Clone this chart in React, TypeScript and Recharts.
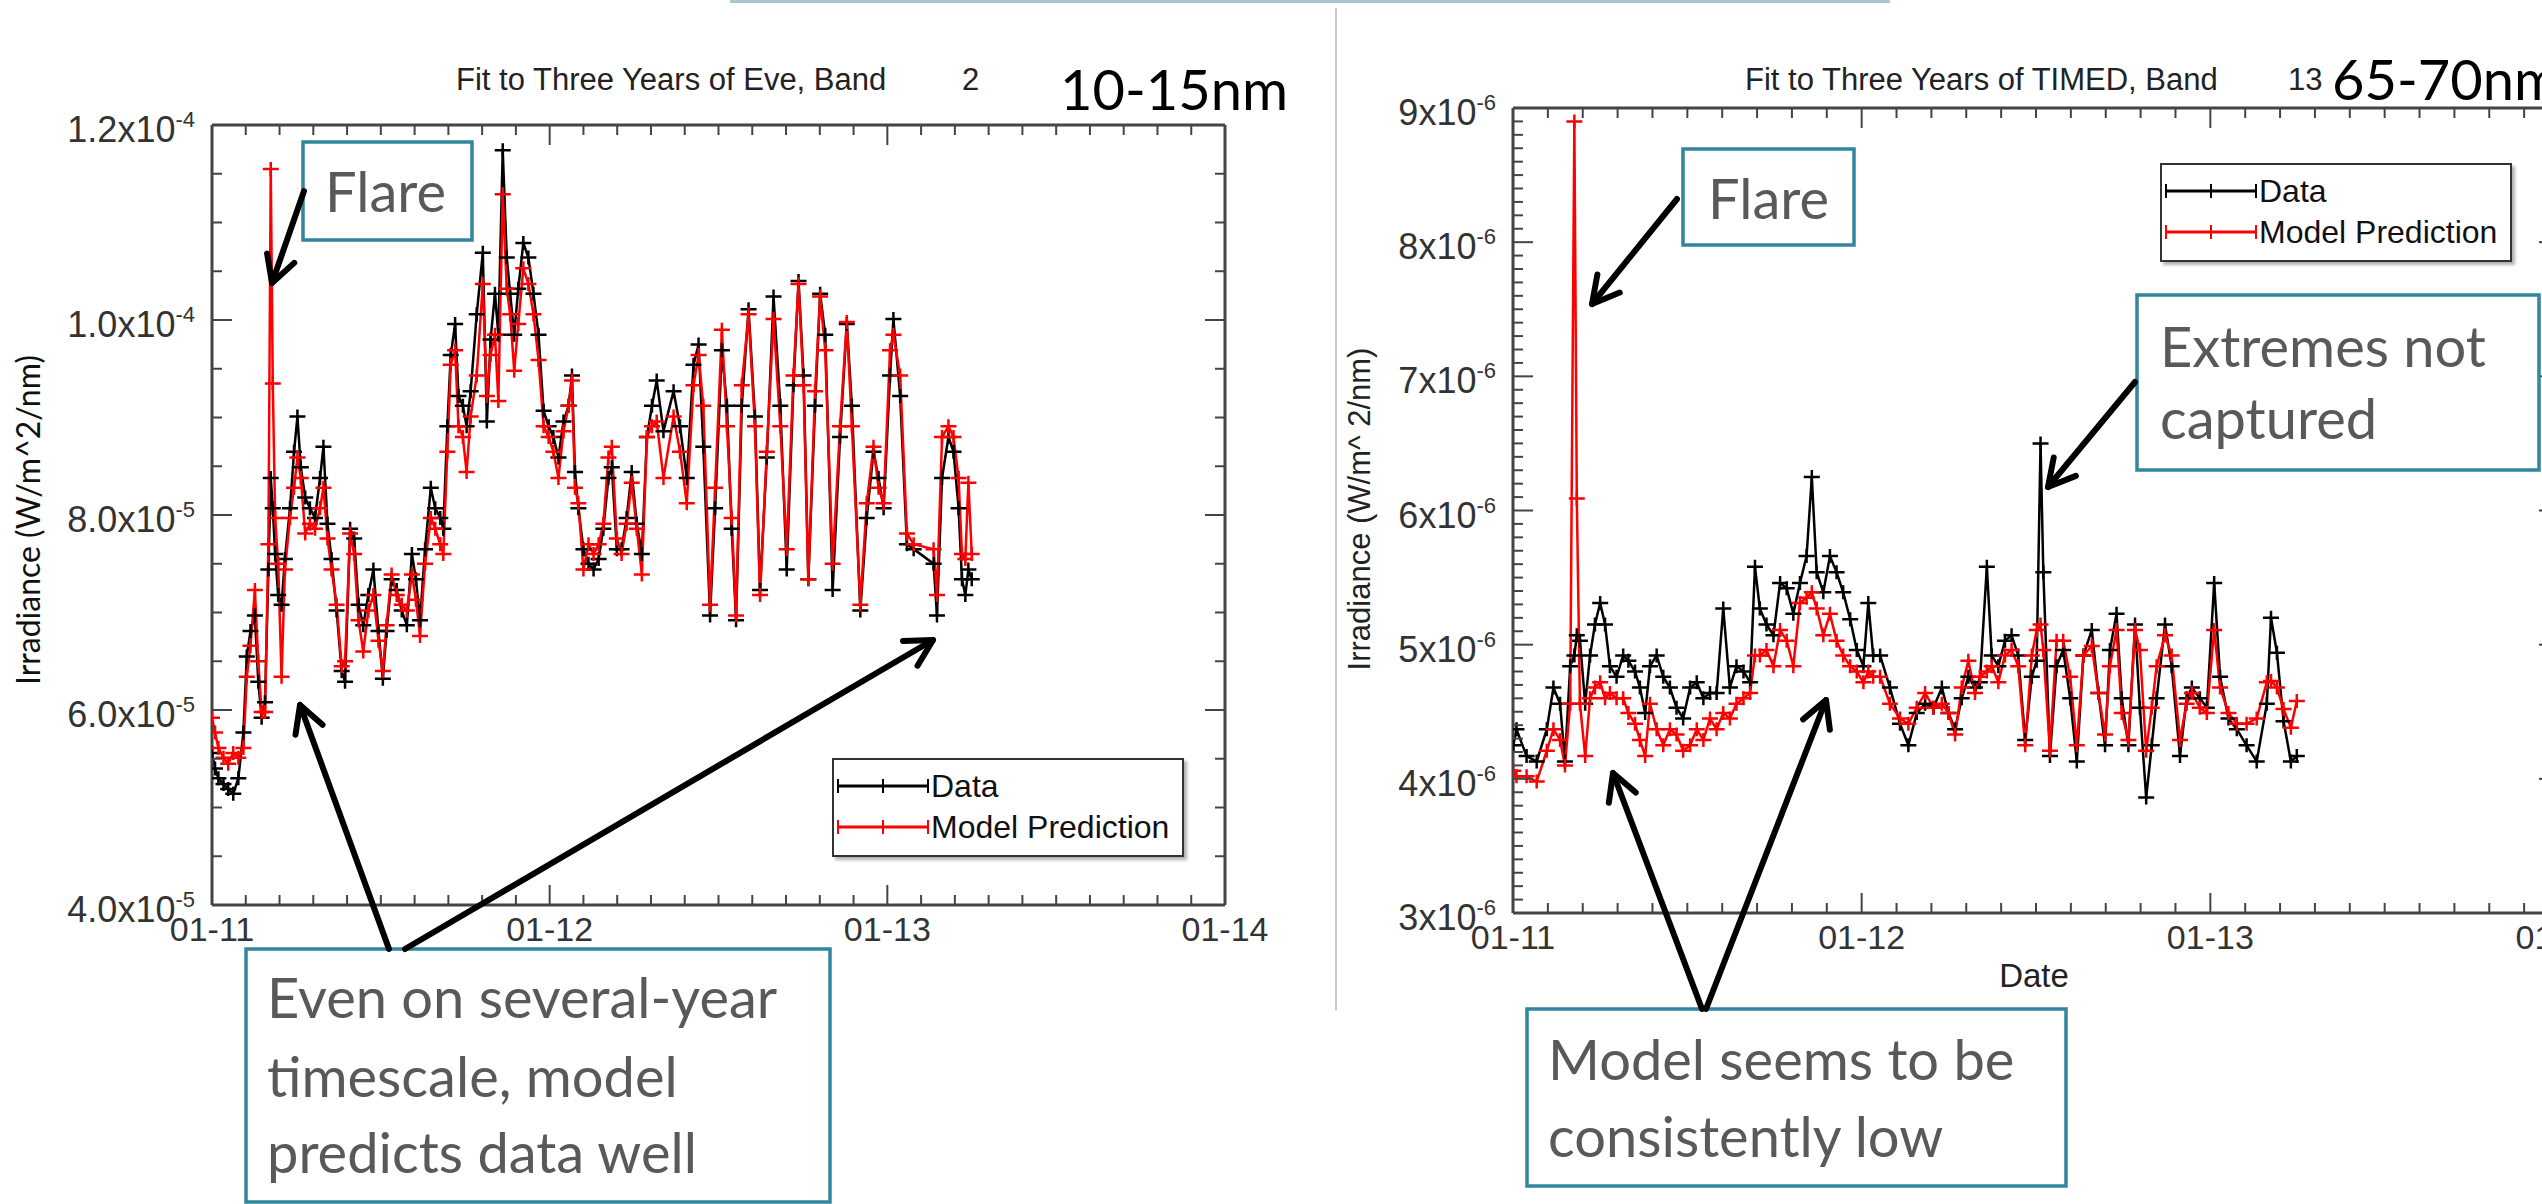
import React from "react";
import { LineChart, Line, XAxis, YAxis, Legend } from "recharts";

// EVE band 2 (10-15 nm). t = years after Jan 2011, irradiance in 1e-5 W/m^2/nm
const eveT = [
  0.0, 0.009, 0.019, 0.034, 0.048, 0.063, 0.078, 0.093, 0.103, 0.114,
  0.127, 0.137, 0.147, 0.157, 0.167, 0.174, 0.18, 0.187, 0.196, 0.206,
  0.216, 0.231, 0.243, 0.253, 0.263, 0.276, 0.29, 0.305, 0.32, 0.33,
  0.342, 0.354, 0.369, 0.384, 0.394, 0.409, 0.421, 0.434, 0.448, 0.463,
  0.478, 0.493, 0.506, 0.517, 0.532, 0.547, 0.562, 0.577, 0.592, 0.604,
  0.616, 0.631, 0.648, 0.661, 0.676, 0.685, 0.697, 0.707, 0.72, 0.73,
  0.743, 0.754, 0.766, 0.784, 0.802, 0.814, 0.825, 0.838, 0.848, 0.861,
  0.873, 0.883, 0.895, 0.907, 0.922, 0.937, 0.952, 0.967, 0.982, 0.997,
  1.011, 1.026, 1.041, 1.056, 1.066, 1.075, 1.085, 1.1, 1.115, 1.13,
  1.145, 1.159, 1.174, 1.184, 1.199, 1.213, 1.228, 1.243, 1.258, 1.273,
  1.288, 1.303, 1.317, 1.337, 1.367, 1.386, 1.406, 1.426, 1.441, 1.455,
  1.475, 1.49, 1.51, 1.525, 1.539, 1.552, 1.569, 1.589, 1.608, 1.623,
  1.643, 1.663, 1.683, 1.702, 1.722, 1.737, 1.752, 1.766, 1.786, 1.801,
  1.816, 1.838, 1.86, 1.88, 1.895, 1.92, 1.939, 1.959, 1.974, 1.989,
  2.008, 2.018, 2.038, 2.058, 2.078, 2.137, 2.147, 2.162, 2.181, 2.196,
  2.211, 2.221, 2.231, 2.24, 2.25,
];
const eveData = [
  5.56, 5.4, 5.3, 5.24, 5.19, 5.14, 5.3, 5.77, 6.55, 6.81,
  6.97, 6.29, 5.92, 6.08, 7.44, 8.38, 8.07, 7.6, 7.18, 7.08,
  7.55, 8.07, 8.65, 9.01, 8.49, 8.18, 8.07, 7.97, 8.38, 8.7,
  7.91, 7.55, 7.02, 6.4, 6.29, 7.86, 7.76, 7.08, 6.87, 7.18,
  7.44, 6.81, 6.32, 6.81, 7.34, 7.23, 7.02, 6.87, 7.6, 7.34,
  6.92, 7.65, 8.28, 8.07, 7.97, 7.86, 8.91, 9.64, 9.96, 9.22,
  9.12, 8.91, 9.27, 10.06, 10.69, 8.96, 9.8, 10.27, 9.85, 11.74,
  10.64, 10.27, 9.85, 10.32, 10.79, 10.64, 10.27, 9.85, 9.07, 8.91,
  8.8, 8.59, 8.96, 9.12, 9.43, 8.44, 8.07, 7.65, 7.5, 7.44,
  7.55, 7.86, 8.38, 8.49, 7.65, 7.65, 7.97, 8.44, 7.91, 7.6,
  8.8, 9.12, 9.38, 8.86, 9.27, 8.91, 8.38, 9.54, 9.75, 8.7,
  6.97, 8.07, 9.69, 9.12, 7.86, 6.92, 9.12, 10.11, 9.01, 7.23,
  8.59, 10.24, 9.12, 7.44, 9.33, 10.4, 9.43, 7.34, 9.12, 10.27,
  9.85, 7.23, 8.8, 9.96, 9.12, 7.02, 7.97, 8.65, 8.38, 8.07,
  9.43, 10.01, 9.22, 7.7, 7.65, 7.5, 6.97, 8.38, 8.8, 8.65,
  8.07, 7.34, 7.18, 7.44, 7.34,
];
const eveModel = [
  5.92, 5.77, 5.61, 5.51, 5.45, 5.56, 5.51, 5.61, 6.34, 6.66,
  7.23, 6.5, 5.98, 5.98, 7.7, 11.55, 9.35, 7.97, 7.5, 6.34,
  7.44, 7.97, 8.28, 8.59, 8.38, 7.81, 7.91, 7.86, 8.07, 8.28,
  7.76, 7.44, 7.08, 6.45, 6.5, 7.81, 7.6, 6.92, 6.6, 7.02,
  7.18, 6.71, 6.4, 6.87, 7.39, 7.18, 7.08, 7.02, 7.39, 7.13,
  6.76, 7.5, 7.97, 7.86, 7.7, 7.6, 8.65, 9.54, 9.69, 8.91,
  8.8, 8.44, 9.01, 9.43, 10.37, 9.22, 9.64, 9.85, 9.17, 11.29,
  10.32, 10.06, 9.48, 9.96, 10.53, 10.37, 10.06, 9.59, 8.91, 8.8,
  8.65, 8.38, 8.86, 9.12, 9.38, 8.28, 8.12, 7.44, 7.7, 7.6,
  7.7, 7.91, 8.59, 8.7, 7.76, 7.6, 7.91, 8.33, 7.86, 7.39,
  8.8, 8.91, 8.96, 8.38, 9.01, 8.65, 8.12, 9.33, 9.64, 9.12,
  7.08, 8.28, 9.9, 8.91, 7.97, 6.97, 9.33, 10.06, 8.91, 7.18,
  8.65, 10.01, 8.91, 7.65, 9.43, 10.37, 9.33, 7.34, 9.27, 10.24,
  9.69, 7.5, 8.91, 9.98, 8.91, 7.08, 8.12, 8.7, 8.28, 8.12,
  9.69, 9.85, 9.43, 7.81, 7.7, 7.65, 7.18, 8.8, 8.91, 8.8,
  8.38, 7.6, 7.55, 8.33, 7.6,
];

// TIMED band 13 (65-70 nm). irradiance in 1e-6 W/m^2/nm
const timedT = [
  0.001, 0.01, 0.039, 0.068, 0.097, 0.116, 0.135, 0.149, 0.164, 0.176,
  0.183, 0.192, 0.207, 0.221, 0.235, 0.25, 0.264, 0.278, 0.297, 0.316,
  0.331, 0.35, 0.364, 0.379, 0.393, 0.412, 0.431, 0.45, 0.469, 0.488,
  0.508, 0.527, 0.546, 0.565, 0.584, 0.603, 0.622, 0.641, 0.661, 0.68,
  0.694, 0.708, 0.727, 0.747, 0.766, 0.785, 0.804, 0.823, 0.842, 0.857,
  0.871, 0.89, 0.909, 0.928, 0.947, 0.967, 0.986, 1.005, 1.019, 1.033,
  1.053, 1.081, 1.11, 1.134, 1.158, 1.182, 1.206, 1.23, 1.249, 1.268,
  1.287, 1.306, 1.325, 1.339, 1.359, 1.373, 1.392, 1.411, 1.43, 1.449,
  1.469, 1.488, 1.502, 1.513, 1.521, 1.54, 1.559, 1.578, 1.598, 1.617,
  1.636, 1.66, 1.679, 1.698, 1.712, 1.731, 1.746, 1.765, 1.784, 1.798,
  1.816, 1.832, 1.846, 1.87, 1.889, 1.913, 1.932, 1.947, 1.97, 1.99,
  2.011, 2.028, 2.052, 2.076, 2.104, 2.133, 2.162, 2.174, 2.191, 2.21,
  2.231, 2.248,
];
const timedData = [
  4.25, 4.37, 4.17, 4.13, 4.37, 4.68, 4.56, 4.13, 4.84, 4.92,
  5.07, 5.03, 4.56, 4.92, 5.15, 5.31, 5.15, 4.84, 4.76, 4.92,
  4.88, 4.8, 4.68, 4.49, 4.84, 4.92, 4.76, 4.68, 4.53, 4.45,
  4.68, 4.72, 4.6, 4.64, 4.64, 5.27, 4.68, 4.84, 4.8, 4.72,
  5.58, 5.27, 5.15, 5.07, 5.46, 5.42, 5.23, 5.46, 5.66, 6.25,
  5.54, 5.39, 5.66, 5.54, 5.39, 5.19, 4.96, 4.84, 5.31, 4.92,
  4.92, 4.68, 4.41, 4.25, 4.49, 4.56, 4.53, 4.68, 4.49, 4.37,
  4.6, 4.76, 4.68, 4.72, 5.58, 4.92, 4.84, 5.03, 5.07, 4.92,
  4.29, 4.76, 4.88, 6.5, 5.54, 4.17, 4.84, 4.96, 4.6, 4.13,
  4.92, 5.11, 4.64, 4.25, 4.96, 5.23, 4.6, 4.25, 5.15, 4.53,
  3.86, 4.25, 4.6, 5.15, 4.84, 4.17, 4.6, 4.68, 4.6, 4.53,
  5.46, 4.76, 4.45, 4.37, 4.25, 4.13, 4.56, 5.2, 4.94, 4.43,
  4.13, 4.17,
];
const timedModel = [
  4.06, 4.02, 4.02, 3.98, 4.21, 4.37, 4.29, 4.1, 4.56, 8.9,
  6.09, 4.56, 4.17, 4.6, 4.68, 4.72, 4.6, 4.64, 4.6, 4.6,
  4.49, 4.41, 4.29, 4.17, 4.56, 4.37, 4.25, 4.37, 4.33, 4.21,
  4.25, 4.37, 4.29, 4.45, 4.37, 4.49, 4.45, 4.56, 4.6, 4.64,
  4.92, 4.92, 4.96, 4.84, 5.11, 5.03, 4.84, 5.31, 5.35, 5.39,
  5.27, 5.07, 5.23, 5.03, 4.92, 4.84, 4.8, 4.72, 4.8, 4.76,
  4.76, 4.56, 4.45, 4.41, 4.53, 4.64, 4.53, 4.56, 4.49, 4.33,
  4.68, 4.88, 4.64, 4.76, 4.8, 4.84, 4.72, 4.92, 4.96, 4.84,
  4.25, 4.92, 5.11, 5.15, 4.96, 4.21, 5.03, 5.03, 4.76, 4.25,
  4.92, 4.99, 4.64, 4.33, 4.84, 5.11, 4.49, 4.29, 5.11, 4.96,
  4.21, 4.53, 4.84, 5.07, 4.92, 4.29, 4.56, 4.64, 4.53, 4.49,
  5.11, 4.68, 4.49, 4.41, 4.41, 4.45, 4.72, 4.73, 4.68, 4.52,
  4.38, 4.58,
];

const yearLabels = ["01-11", "01-12", "01-13", "01-14"];
const eveYMajor = [4, 6, 8, 10, 12];
const timedYMajor = [3, 4, 5, 6, 7, 8, 9];

const steps = (from: number, to: number, step: number) =>
  Array.from({ length: Math.round((to - from) / step) + 1 }, (_, i) => +(from + i * step).toFixed(3));
const xMinor = steps(0, 3, 0.1);
const eveYMinor = steps(4, 12, 0.5);
const timedYMinor = steps(3, 9, 0.1);

const eveRows = eveT.map((t, i) => ({ t, data: eveData[i], model: eveModel[i] }));
const timedRows = timedT.map((t, i) => ({ t, data: timedData[i], model: timedModel[i] }));

const AX = "#444";
const IDL_FONT = "'Liberation Sans', Arial, sans-serif";
const SLIDE_FONT = "Lato, 'Open Sans', sans-serif";
const TEAL = "#31859c";

const sciParts = (v: number, scaleExp: number, digits: number) => {
  const real = v * Math.pow(10, scaleExp);
  const exp = Math.floor(Math.log10(real) + 1e-9);
  const mant = real / Math.pow(10, exp);
  return [digits ? mant.toFixed(digits) : String(Math.round(mant)), String(exp)];
};

// ticks point into the plot (IDL style), labels only on the outer side
const xTick = (dir: number, showLabel: boolean, labelDy: number) => (p: any) => {
  const v = p.payload.value;
  const major = Math.abs(v - Math.round(v)) < 1e-6;
  const len = major ? 20 : 10;
  return (
    <g key={`x${dir}-${v}`}>
      <line x1={p.x} x2={p.x} y1={p.y} y2={p.y + dir * len} stroke={AX} strokeWidth={2} />
      {showLabel && major && (
        <text x={p.x} y={p.y + labelDy} textAnchor="middle" fontFamily={IDL_FONT} fontSize={34} fill="#333">
          {yearLabels[Math.round(v)]}
        </text>
      )}
    </g>
  );
};

const yTick = (dir: number, majors: number[], scaleExp: number, digits: number, showLabel: boolean) => (p: any) => {
  const v = p.payload.value;
  const major = majors.includes(v);
  const len = major ? 20 : 10;
  const [m, e] = sciParts(v, scaleExp, digits);
  return (
    <g key={`y${dir}-${v}`}>
      <line x1={p.x} x2={p.x + dir * len} y1={p.y} y2={p.y} stroke={AX} strokeWidth={2} />
      {showLabel && major && (
        <text x={p.x - 17} y={p.y + 17} textAnchor="end" fontFamily={IDL_FONT} fontSize={36} fill="#333">
          {m}x10
          <tspan dy={-15} fontSize={22}>{e}</tspan>
        </text>
      )}
    </g>
  );
};

const plus = (color: string) => (p: any) => (
  <path
    key={`${color}-${p.index}`}
    d={`M${p.cx - 8},${p.cy}H${p.cx + 8}M${p.cx},${p.cy - 7}V${p.cy + 7}`}
    stroke={color}
    strokeWidth={2.5}
    fill="none"
  />
);

const LegendBox = ({ payload }: any) => (
  <div
    style={{
      width: 352,
      height: 99,
      boxSizing: "border-box",
      border: "2px solid #333",
      background: "#fff",
      boxShadow: "3px 3px 3px rgba(0,0,0,0.3)",
    }}
  >
    <svg width={348} height={95} style={{ display: "block" }}>
      {(payload || []).map((entry: any, i: number) => {
        const y = 26 + i * 41;
        return (
          <g key={entry.value}>
            <line x1={4} x2={94} y1={y} y2={y} stroke={entry.color} strokeWidth={3} />
            {[4, 49, 94].map((x) => (
              <line key={x} x1={x} x2={x} y1={y - 7} y2={y + 7} stroke={entry.color} strokeWidth={2} />
            ))}
            <text x={97} y={y + 11} fontFamily={IDL_FONT} fontSize={32} fill="#111">
              {entry.value}
            </text>
          </g>
        );
      })}
    </svg>
  </div>
);

type PanelProps = {
  rows: any[];
  margin: { top: number; right: number; bottom: number; left: number };
  yDomain: [number, number];
  yMinor: number[];
  yMajor: number[];
  scaleExp: number;
  digits: number;
  legendPos: { left: number; top: number };
  xLabelDy: number;
};

// axes are 1px thick boxes, so the plot area = chart box minus margin minus 1
const Panel = ({ rows, margin, yDomain, yMinor, yMajor, scaleExp, digits, legendPos, xLabelDy }: PanelProps) => (
  <LineChart width={1300} height={1000} data={rows} margin={margin}>
    <XAxis
      xAxisId="b"
      dataKey="t"
      type="number"
      domain={[0, 3]}
      ticks={xMinor}
      interval={0}
      height={1}
      tickSize={0}
      tickMargin={0}
      tickLine={false}
      axisLine={{ stroke: AX, strokeWidth: 3 }}
      tick={xTick(-1, true, xLabelDy)}
      allowDataOverflow
    />
    <XAxis
      xAxisId="t"
      orientation="top"
      dataKey="t"
      type="number"
      domain={[0, 3]}
      ticks={xMinor}
      interval={0}
      height={1}
      tickSize={0}
      tickMargin={0}
      tickLine={false}
      axisLine={{ stroke: AX, strokeWidth: 3 }}
      tick={xTick(1, false, 0)}
      allowDataOverflow
    />
    <YAxis
      yAxisId="l"
      type="number"
      domain={yDomain}
      ticks={yMinor}
      interval={0}
      width={1}
      tickSize={0}
      tickMargin={0}
      tickLine={false}
      axisLine={{ stroke: AX, strokeWidth: 3 }}
      tick={yTick(1, yMajor, scaleExp, digits, true)}
      allowDataOverflow
    />
    <YAxis
      yAxisId="r"
      orientation="right"
      type="number"
      domain={yDomain}
      ticks={yMinor}
      interval={0}
      width={1}
      tickSize={0}
      tickMargin={0}
      tickLine={false}
      axisLine={{ stroke: AX, strokeWidth: 3 }}
      tick={yTick(-1, yMajor, scaleExp, digits, false)}
      allowDataOverflow
    />
    <Legend
      verticalAlign="middle"
      align="center"
      layout="horizontal"
      wrapperStyle={{ left: legendPos.left, top: legendPos.top, width: 352, height: 99 }}
      content={(props: any) => <LegendBox payload={props.payload} />}
    />
    <Line
      xAxisId="b"
      yAxisId="l"
      name="Data"
      dataKey="data"
      stroke="#000"
      strokeWidth={2.5}
      dot={plus("#000")}
      activeDot={false}
      isAnimationActive={false}
    />
    <Line
      xAxisId="b"
      yAxisId="l"
      name="Model Prediction"
      dataKey="model"
      stroke="#ff0000"
      strokeWidth={2.5}
      dot={plus("#ff0000")}
      activeDot={false}
      isAnimationActive={false}
    />
  </LineChart>
);

const Arrow = ({ x1, y1, x2, y2 }: { x1: number; y1: number; x2: number; y2: number }) => {
  const a = Math.atan2(y2 - y1, x2 - x1);
  const L = 30;
  const s = 0.5;
  const h1 = `${x2 - L * Math.cos(a - s)},${y2 - L * Math.sin(a - s)}`;
  const h2 = `${x2 - L * Math.cos(a + s)},${y2 - L * Math.sin(a + s)}`;
  return (
    <g stroke="#000" strokeWidth={6} fill="none" strokeLinecap="round" strokeLinejoin="round">
      <line x1={x1} y1={y1} x2={x2} y2={y2} />
      <polyline points={`${h1} ${x2},${y2} ${h2}`} />
    </g>
  );
};

const NoteBox = ({ x, y, w, h, lines, tx, baselines }: any) => (
  <g>
    <rect x={x} y={y} width={w} height={h} fill="#fff" stroke={TEAL} strokeWidth={3.5} />
    {lines.map((ln: string, i: number) => (
      <text key={ln} x={tx} y={baselines[i]} fontFamily={SLIDE_FONT} fontSize={56} fill="#595959">
        {ln}
      </text>
    ))}
  </g>
);

export default function App() {
  return (
    <div
      style={{
        position: "fixed",
        left: 0,
        top: 0,
        width: 2542,
        height: 1204,
        overflow: "hidden",
        background: "#fff",
      }}
    >
      <div style={{ position: "absolute", left: 0, top: 0 }}>
        <Panel
          rows={eveRows}
          margin={{ top: 124, right: 74, bottom: 94, left: 211 }}
          yDomain={[4, 12]}
          yMinor={eveYMinor}
          yMajor={eveYMajor}
          scaleExp={-5}
          digits={1}
          legendPos={{ left: 832, top: 758 }}
          xLabelDy={36}
        />
      </div>
      <div style={{ position: "absolute", left: 1340, top: 0 }}>
        <Panel
          rows={timedRows}
          margin={{ top: 107, right: 80, bottom: 86, left: 172 }}
          yDomain={[3, 9]}
          yMinor={timedYMinor}
          yMajor={timedYMajor}
          scaleExp={-6}
          digits={0}
          legendPos={{ left: 820, top: 163 }}
          xLabelDy={36}
        />
      </div>
      <svg
        width={2542}
        height={1204}
        style={{ position: "absolute", left: 0, top: 0, pointerEvents: "none" }}
      >
        <rect x={730} y={0} width={1160} height={3} fill="#a9c5cd" />
        <line x1={1336} x2={1336} y1={8} y2={1010} stroke="#c8c8c8" strokeWidth={2} />

        <text x={456} y={90} fontFamily={IDL_FONT} fontSize={31} fill="#222">
          Fit to Three Years of Eve, Band
        </text>
        <text x={962} y={90} fontFamily={IDL_FONT} fontSize={31} fill="#222">2</text>
        <text x={1060} y={110} fontFamily={SLIDE_FONT} fontSize={56} fill="#000">10-15nm</text>

        <text x={1745} y={90} fontFamily={IDL_FONT} fontSize={31} fill="#222">
          Fit to Three Years of TIMED, Band
        </text>
        <text x={2288} y={90} fontFamily={IDL_FONT} fontSize={31} fill="#222">13</text>
        <text x={2332} y={100} fontFamily={SLIDE_FONT} fontSize={56} fill="#000">65-70nm</text>

        <text
          transform="translate(40,520) rotate(-90)"
          textAnchor="middle"
          fontFamily={SLIDE_FONT}
          fontSize={32}
          fill="#111"
        >
          Irradiance (W/m^2/nm)
        </text>
        <text
          transform="translate(1370,509) rotate(-90)"
          textAnchor="middle"
          fontFamily={IDL_FONT}
          fontSize={31}
          fill="#222"
        >
          Irradiance (W/m^ 2/nm)
        </text>
        <text x={2034} y={987} textAnchor="middle" fontFamily={IDL_FONT} fontSize={33} fill="#222">
          Date
        </text>

        <NoteBox x={303} y={142} w={169} h={98} lines={["Flare"]} tx={325} baselines={[212]} />
        <NoteBox x={1683} y={149} w={171} h={96} lines={["Flare"]} tx={1708} baselines={[219]} />
        <NoteBox
          x={2137}
          y={295}
          w={402}
          h={175}
          lines={["Extremes not", "captured"]}
          tx={2160}
          baselines={[367, 439]}
        />
        <NoteBox
          x={246}
          y={949}
          w={584}
          h={253}
          lines={["Even on several-year", "timescale, model", "predicts data well"]}
          tx={267}
          baselines={[1018, 1097, 1173]}
        />
        <NoteBox
          x={1527}
          y={1009}
          w={539}
          h={177}
          lines={["Model seems to be", "consistently low"]}
          tx={1548}
          baselines={[1080, 1157]}
        />

        <Arrow x1={304} y1={191} x2={272} y2={283} />
        <Arrow x1={389} y1={949} x2={300} y2={705} />
        <Arrow x1={405} y1={949} x2={933} y2={640} />
        <Arrow x1={1677} y1={199} x2={1592} y2={304} />
        <Arrow x1={1702} y1={1009} x2={1613} y2={773} />
        <Arrow x1={1706} y1={1009} x2={1826} y2={700} />
        <Arrow x1={2135} y1={382} x2={2048} y2={487} />
      </svg>
    </div>
  );
}
